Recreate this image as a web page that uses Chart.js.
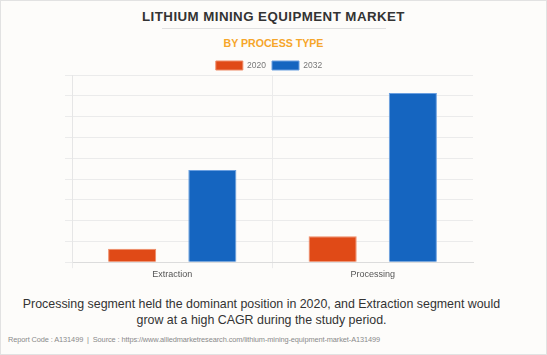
<!DOCTYPE html>
<html>
<head>
<meta charset="utf-8">
<script src="https://cdn.jsdelivr.net/npm/chart.js@4"></script>
<style>
  html, body { margin: 0; padding: 0; }
  body { width: 547px; height: 355px; background: #fdfcfa; position: relative; overflow: hidden; font-family: "Liberation Sans", Arial, sans-serif; }
  .frame { position: absolute; left: 0; top: 0; width: 545px; height: 353px; border: 1px solid #e2e2e2; box-sizing: content-box; }
  .title { position: absolute; left: 0; width: 547px; top: 9px; text-align: center; font-weight: bold; font-size: 13.3px; letter-spacing: 0.45px; color: #333; }
  .rule { position: absolute; left: 162px; width: 224px; top: 28px; height: 1px; background: #e0e0e0; }
  .subtitle { position: absolute; left: 0; width: 547px; top: 37px; text-align: center; font-weight: bold; font-size: 10.6px; color: #f6a62a; }
  .note { position: absolute; left: -12px; width: 547px; top: 297px; text-align: center; font-size: 12.4px; line-height: 15.5px; color: #333; }
  .src { position: absolute; left: 8px; top: 335px; font-size: 7.4px; color: #8a8a8a; letter-spacing: -0.1px; }
  #wrap { position: absolute; left: 0; top: 55px; width: 547px; height: 226px; }
</style>
</head>
<body>
<div class="frame"></div>
<div class="title">LITHIUM MINING EQUIPMENT MARKET</div>
<div class="rule"></div>
<div class="subtitle">BY PROCESS TYPE</div>
<div id="wrap"><canvas id="c"></canvas></div>
<div class="note">Processing segment held the dominant position in 2020, and Extraction segment would<br>grow at a high CAGR during the study period.</div>
<div class="src">Report Code : A131499 &nbsp;|&nbsp; Source : https://www.alliedmarketresearch.com/lithium-mining-equipment-market-A131499</div>
<script>
const categories = ["Extraction", "Processing"];
const seriesNames = ["2020", "2032"];
const values2020 = [65, 125];
const values2032 = [443, 814];
const yTicks = [0, 100, 200, 300, 400, 500, 600, 700, 800, 900];

const gridColor = '#ebebeb';
const legendFit = {
  id: 'legendFit',
  beforeLayout(chart) {
    const lg = chart.legend;
    if (lg && !lg._patched) {
      const f = lg.fit;
      lg.fit = function () { f.call(this); this.height -= 5; };
      lg._patched = true;
    }
  }
};
new Chart(document.getElementById('c'), {
  type: 'bar',
  data: {
    labels: categories,
    datasets: [
      { label: seriesNames[0], data: values2020, backgroundColor: '#e04a17', borderColor: '#ee8a66', borderWidth: 1 },
      { label: seriesNames[1], data: values2032, backgroundColor: '#1565c0', borderColor: '#6a9fe0', borderWidth: 1 }
    ]
  },
  plugins: [legendFit],
  options: {
    responsive: true,
    maintainAspectRatio: false,
    animation: false,
    layout: { padding: { left: 65, right: 74, top: 0, bottom: 0 } },
    datasets: { bar: { categoryPercentage: 0.8, barPercentage: 0.6 } },
    plugins: {
      tooltip: { enabled: false },
      legend: {
        position: 'top',
        labels: {
          boxWidth: 27, boxHeight: 9, padding: 6,
          color: '#777',
          font: { family: '"Liberation Sans", Arial, sans-serif', size: 8.5 }
        }
      }
    },
    scales: {
      x: {
        grid: {
          offset: true,
          color: (ctx) => ctx.type === 'tick' ? gridColor : 'rgba(0,0,0,0)',
          tickLength: 6
        },
        border: { color: '#dcdcdc' },
        ticks: { color: '#555', padding: 1, font: { family: '"Liberation Sans", Arial, sans-serif', size: 9 } }
      },
      y: {
        min: yTicks[0], max: yTicks[yTicks.length - 1],
        afterBuildTicks: (axis) => { axis.ticks = yTicks.map(v => ({ value: v })); },
        grid: { color: gridColor, tickLength: 7 },
        border: { color: '#e6e6e6' },
        ticks: { display: false }
      }
    }
  }
});
</script>
</body>
</html>
